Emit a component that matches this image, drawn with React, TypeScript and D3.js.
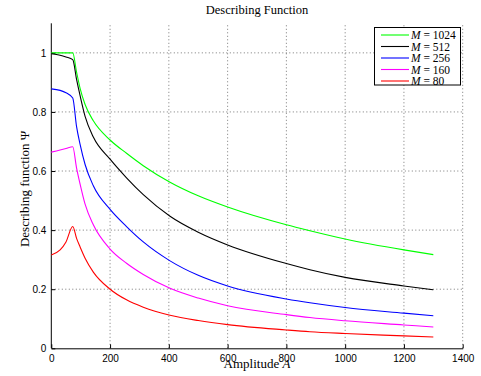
import { useEffect, useRef } from "react";
import * as d3 from "d3";

// amplitude samples
const amplitudes = [0, 30, 50, 73, 86, 98, 115, 143, 200, 256, 313, 404, 500, 600, 800, 880, 1000, 1200, 1300];

const psi1024 = [1, 1, 1, 1, 0.935, 0.88, 0.825, 0.77, 0.705, 0.66, 0.618, 0.562, 0.516, 0.478, 0.418, 0.398, 0.37, 0.333, 0.317];
const psi512 = [0.997, 0.992, 0.986, 0.977, 0.91, 0.855, 0.785, 0.715, 0.64, 0.577, 0.52, 0.447, 0.393, 0.35, 0.287, 0.266, 0.24, 0.211, 0.198];
const psi256 = [0.878, 0.873, 0.865, 0.847, 0.75, 0.69, 0.622, 0.55, 0.47, 0.412, 0.36, 0.296, 0.247, 0.211, 0.167, 0.154, 0.138, 0.119, 0.11];
const psi160 = [0.664, 0.671, 0.676, 0.682, 0.61, 0.556, 0.488, 0.418, 0.336, 0.288, 0.25, 0.203, 0.17, 0.144, 0.114, 0.104, 0.093, 0.079, 0.072];
const psi80 = [0.316, 0.333, 0.36, 0.412, 0.372, 0.343, 0.305, 0.258, 0.2, 0.164, 0.139, 0.112, 0.094, 0.08, 0.062, 0.056, 0.05, 0.042, 0.038];

const seriesNames = ["1024", "512", "256", "160", "80"];
const seriesValues = [psi1024, psi512, psi256, psi160, psi80];
const seriesColors = ["#00ff00", "#000000", "#0000ff", "#ff00ff", "#ff0000"];

const xTicks = [0, 200, 400, 600, 800, 1000, 1200, 1400];
const yTicks = [0, 0.2, 0.4, 0.6, 0.8, 1];

const width = 481;
const height = 376;

export default function App() {
    const svgRef = useRef<SVGSVGElement | null>(null);

    useEffect(() => {
        const svg = d3.select(svgRef.current);
        svg.selectAll("*").remove();

        const margin = { top: 23.3, right: 18.3, bottom: 27.7, left: 51.3 };

        const x = d3.scaleLinear().domain([0, 1400]).range([margin.left, width - margin.right]);
        const y = d3.scaleLinear().domain([0, 1.1]).range([height - margin.bottom, margin.top]);

        const sans = "'Liberation Sans', Arial, sans-serif";
        const serif = "'Liberation Serif', 'Times New Roman', serif";

        // dotted grid
        const grid = svg.append("g").attr("stroke", "#555").attr("stroke-width", 0.8).attr("stroke-dasharray", "1 2.5");
        xTicks.filter((t) => t > 0).forEach((t) => {
            grid.append("line").attr("x1", x(t)).attr("x2", x(t)).attr("y1", y(0)).attr("y2", y(1.1));
        });
        yTicks.filter((t) => t > 0).forEach((t) => {
            grid.append("line").attr("x1", x(0)).attr("x2", x(1400)).attr("y1", y(t)).attr("y2", y(t));
        });

        // axes (ticks point inward)
        const xAxis = svg.append("g")
            .attr("transform", `translate(0,${y(0)})`)
            .call(d3.axisBottom(x).tickValues(xTicks).tickFormat(d3.format("d")).tickSizeInner(-4).tickSizeOuter(0).tickPadding(7));
        const yAxis = svg.append("g")
            .attr("transform", `translate(${x(0)},0)`)
            .call(d3.axisLeft(y).tickValues(yTicks).tickFormat((d) => String(+d)).tickSizeInner(-4).tickSizeOuter(0).tickPadding(5));
        [xAxis, yAxis].forEach((g) => {
            g.select(".domain").attr("stroke", "#000").attr("stroke-width", 1);
            g.selectAll(".tick line").attr("stroke", "#000");
            g.selectAll(".tick text").attr("font-family", sans).attr("font-size", 10).attr("fill", "#000");
        });
        yAxis.select(".domain").attr("d", `M0,${y(0)}V${y(1.1)}`);

        // curves
        const line = d3.line<number>()
            .x((_, i) => x(amplitudes[i]))
            .y((d) => y(d))
            .curve(d3.curveMonotoneX);

        seriesValues.forEach((vals, i) => {
            svg.append("path")
                .datum(vals)
                .attr("fill", "none")
                .attr("stroke", seriesColors[i])
                .attr("stroke-width", 1.1)
                .attr("d", line);
        });

        // title and labels
        svg.append("text")
            .attr("x", (x(0) + x(1400)) / 2)
            .attr("y", 14)
            .attr("text-anchor", "middle")
            .attr("font-family", serif)
            .attr("font-size", 12.5)
            .text("Describing Function");

        const xl = svg.append("text")
            .attr("x", (x(0) + x(1400)) / 2)
            .attr("y", 368)
            .attr("text-anchor", "middle")
            .attr("font-family", serif)
            .attr("font-size", 13);
        xl.append("tspan").text("Amplitude ");
        xl.append("tspan").attr("font-style", "italic").text("A");

        svg.append("text")
            .attr("transform", `translate(29,${(y(0) + y(1.1)) / 2 + 3}) rotate(-90)`)
            .attr("text-anchor", "middle")
            .attr("font-family", serif)
            .attr("font-size", 13)
            .text("Describing function \u03a8");

        // legend
        const lg = svg.append("g");
        lg.append("rect")
            .attr("x", 374.5).attr("y", 27.5).attr("width", 86).attr("height", 57.5)
            .attr("fill", "#fff").attr("stroke", "#000").attr("stroke-width", 1);
        seriesNames.forEach((name, i) => {
            const cy = 35 + i * 11.5;
            lg.append("line")
                .attr("x1", 381).attr("x2", 409).attr("y1", cy).attr("y2", cy)
                .attr("stroke", seriesColors[i]).attr("stroke-width", 1.1);
            const t = lg.append("text")
                .attr("x", 411).attr("y", cy + 4)
                .attr("font-family", serif).attr("font-size", 11.5);
            t.append("tspan").attr("font-style", "italic").text("M");
            t.append("tspan").text(" = " + name);
        });
    }, []);

    return (
        <svg
            ref={svgRef}
            width={width}
            height={height}
            style={{ position: "absolute", left: 0, top: 0, background: "#fff" }}
        />
    );
}
